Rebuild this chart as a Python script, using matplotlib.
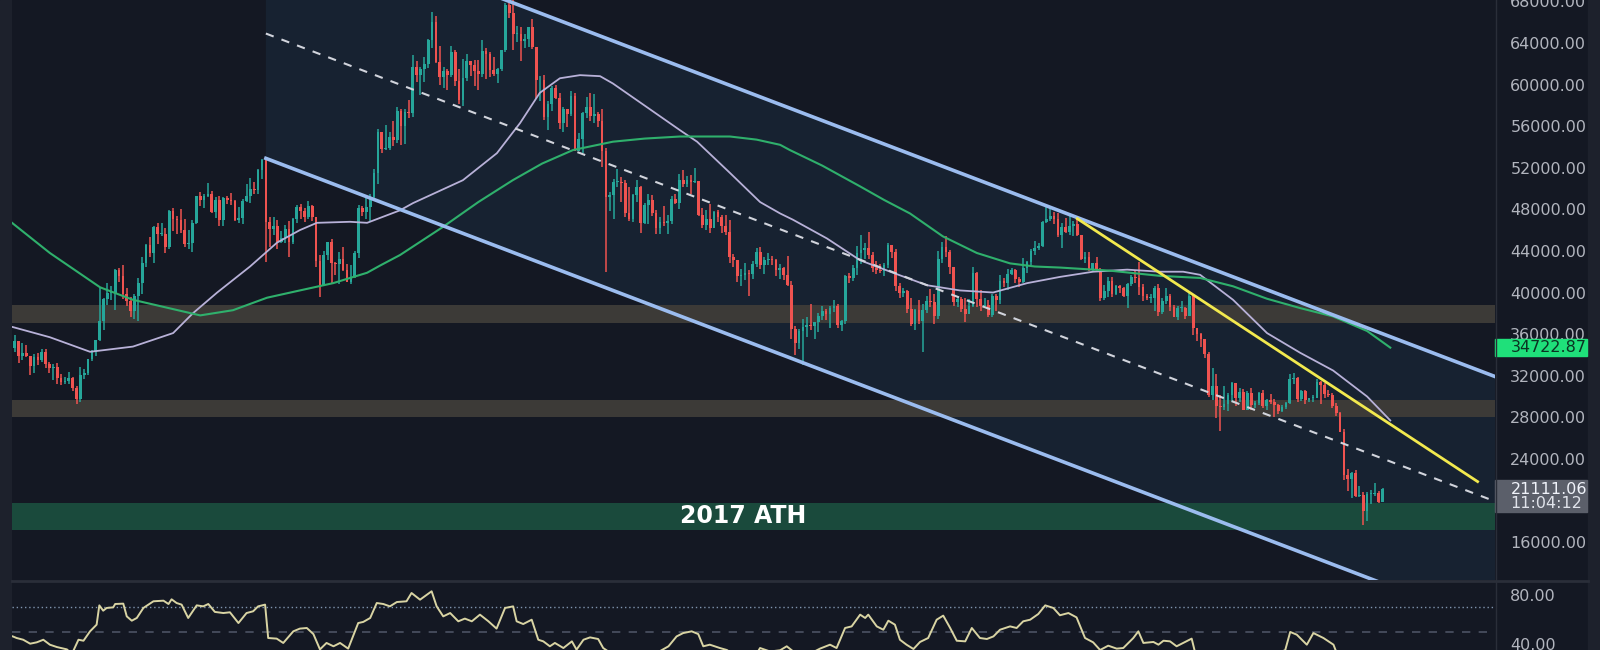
import numpy as np
import matplotlib.pyplot as plt
import matplotlib.transforms as mtransforms
from matplotlib.patches import Rectangle
from matplotlib.lines import Line2D

# BTC daily candles, 4 Jul 2021 .. 23 Jun 2022 (values in thousand USD)
first_open = 34.7
close = [
    # Jul
    35.3, 33.9, 34.2, 33.9, 32.9, 33.8, 33.5, 34.3, 33.1, 32.7, 32.8, 31.8, 31.4, 31.5,
    31.8, 30.8, 29.8, 32.1, 32.3, 33.6, 34.3, 35.4, 37.3, 39.4, 40.0, 40.0, 42.2, 41.6,
    # Aug
    39.9, 39.2, 38.2, 39.7, 40.9, 42.8, 44.6, 43.8, 46.3, 45.6, 45.6, 44.4, 47.8, 47.1, 47.0, 46.0,
    44.7, 44.8, 46.7, 49.3, 48.9, 49.3, 49.5, 47.7, 48.9, 47.0, 49.1, 48.9, 48.8, 47.0, 47.2,
    # Sep
    48.8, 49.3, 50.0, 49.9, 51.8, 52.7, 46.8, 46.1, 46.4, 44.9, 45.2, 46.1, 44.9, 47.1, 48.2,
    47.8, 47.3, 48.3, 47.3, 43.0, 40.7, 43.6, 44.9, 42.8, 42.7, 43.2, 42.2, 41.0, 41.5, 43.8,
    # Oct
    48.1, 47.7, 48.2, 49.2, 51.5, 55.4, 53.8, 53.9, 55.0, 54.7, 57.5, 56.0, 57.4, 57.3, 61.7, 60.9,
    61.5, 62.0, 64.3, 66.0, 62.2, 60.7, 61.3, 60.9, 63.1, 60.3, 58.5, 60.6, 62.3, 61.9, 61.3,
    # Nov
    61.0, 63.2, 62.9, 61.4, 61.0, 61.5, 63.3, 67.6, 66.9, 64.9, 64.9, 64.2, 64.4, 65.5, 63.6,
    60.4, 60.4, 56.9, 58.1, 59.7, 58.7, 56.3, 57.6, 57.2, 58.9, 53.6, 54.8, 57.3, 57.8, 57.0,
    # Dec
    57.2, 56.5, 53.6, 49.2, 49.4, 50.6, 50.6, 50.5, 47.6, 47.1, 49.4, 50.1, 46.7, 48.4, 48.9, 47.6,
    46.2, 46.8, 46.7, 46.9, 49.0, 48.6, 50.8, 50.4, 50.8, 50.6, 50.7, 47.5, 46.5, 47.1, 46.2,
    # Jan
    47.7, 47.3, 46.4, 45.8, 43.4, 43.1, 41.6, 41.7, 41.9, 41.8, 42.7, 43.9, 42.6, 43.1, 43.2, 43.1,
    42.2, 42.4, 41.7, 40.7, 36.5, 35.1, 36.3, 36.7, 36.9, 36.8, 37.2, 37.7, 38.2, 37.9, 38.5,
    # Feb
    38.7, 36.9, 37.3, 41.6, 41.4, 42.4, 43.8, 44.1, 44.3, 43.6, 42.4, 42.2, 42.1, 42.6,
    44.6, 43.9, 40.6, 40.0, 40.1, 38.4, 37.0, 38.3, 37.3, 38.3, 39.2, 39.1, 37.7, 43.2,
    # Mar
    44.4, 43.9, 42.5, 39.1, 39.4, 38.4, 37.9, 38.7, 41.9, 39.4, 38.7, 38.8, 37.8, 39.7, 39.3, 41.1,
    40.9, 41.8, 42.2, 41.3, 41.0, 42.4, 42.9, 44.0, 44.3, 44.5, 46.8, 47.1, 47.4, 47.1, 45.5,
    # Apr
    46.3, 45.8, 46.4, 46.6, 45.5, 43.2, 43.4, 42.3, 42.8, 42.2, 39.5, 40.1, 41.1, 39.9, 40.6,
    40.4, 39.7, 40.8, 41.5, 41.4, 40.5, 39.7, 39.5, 39.5, 40.4, 38.1, 39.2, 39.7, 38.6, 37.6,
    # May
    38.5, 38.5, 37.7, 39.7, 36.6, 36.0, 35.5, 34.1, 30.1, 31.0, 29.1, 29.0, 29.3, 30.1, 31.3, 29.9,
    30.4, 28.7, 30.3, 29.2, 29.4, 30.3, 29.1, 29.7, 29.5, 29.2, 28.6, 29.0, 29.4, 31.7, 31.8,
    # Jun
    29.8, 30.5, 29.7, 29.9, 29.9, 31.4, 31.1, 30.2, 30.1, 29.1, 28.4, 26.6,
    22.5, 22.1, 22.6, 20.4, 20.5, 19.0, 20.6, 20.6, 20.7, 19.9, 21.1,
]
high = [
    35.9, 35.3, 35.1, 35.0, 33.9, 34.1, 34.2, 34.6, 34.6, 33.3, 33.1, 33.2, 32.2, 31.9,
    32.4, 31.9, 31.0, 32.8, 32.6, 33.6, 34.5, 35.4, 40.5, 39.5, 40.9, 40.6, 42.3, 42.4,
    42.6, 40.4, 39.6, 39.9, 41.4, 43.4, 44.7, 45.3, 46.4, 46.7, 46.7, 46.2, 47.9, 48.1, 47.4, 48.0,
    47.1, 46.0, 47.0, 49.3, 49.7, 49.5, 50.5, 49.8, 49.2, 49.3, 49.2, 49.3, 49.6, 48.9, 48.2,
    49.0, 50.4, 51.0, 50.6, 51.9, 52.8, 52.9, 47.3, 47.3, 47.0, 45.9, 46.5, 46.9, 47.2, 48.4,
    48.5, 48.1, 48.8, 48.4, 47.3, 43.6, 44.0, 44.9, 45.1, 42.9, 43.9, 44.4, 42.7, 42.6, 44.0,
    48.4, 48.3, 49.3, 49.5, 51.9, 55.7, 55.3, 56.1, 55.4, 56.5, 57.8, 57.6, 57.6, 58.5, 62.8, 62.3,
    61.7, 62.6, 64.4, 67.0, 66.6, 63.7, 61.7, 61.5, 63.7, 63.3, 61.5, 62.5, 62.9, 62.3, 62.4,
    62.4, 64.3, 63.5, 63.1, 62.6, 61.6, 63.3, 67.8, 68.5, 69.0, 65.6, 65.5, 64.9, 65.5, 66.3,
    63.6, 60.8, 60.9, 58.4, 59.9, 60.0, 59.2, 57.8, 57.6, 59.4, 59.2, 55.3, 57.4, 58.8, 59.2,
    59.1, 57.4, 57.6, 53.9, 49.7, 50.9, 51.9, 51.1, 50.8, 50.1, 49.5, 50.8, 50.2, 48.6, 49.5, 49.4,
    47.9, 47.3, 48.3, 47.5, 49.3, 49.5, 51.4, 51.8, 51.2, 51.3, 52.0, 50.7, 48.1, 47.9, 48.5,
    47.8, 47.9, 47.5, 47.5, 47.0, 43.7, 43.1, 42.3, 42.8, 42.2, 43.0, 44.3, 44.4, 43.4, 43.8, 43.5,
    43.2, 42.7, 42.5, 43.5, 41.1, 36.8, 36.5, 37.5, 37.6, 38.9, 37.2, 38.0, 38.7, 38.4, 38.7,
    39.3, 38.9, 37.4, 41.7, 41.9, 42.6, 44.5, 45.5, 44.8, 45.8, 43.9, 43.0, 42.7, 42.8,
    44.8, 44.6, 44.2, 40.9, 40.4, 40.2, 39.5, 38.4, 39.3, 38.9, 39.7, 40.3, 39.9, 44.0,
    44.9, 45.4, 44.1, 42.5, 39.7, 39.6, 39.5, 39.4, 42.5, 42.0, 40.2, 39.5, 39.3, 39.9, 39.9, 41.7,
    41.4, 42.3, 42.4, 42.3, 41.5, 43.3, 43.0, 44.2, 45.0, 44.8, 46.9, 48.2, 48.1, 47.7, 47.6,
    46.7, 47.2, 47.4, 46.9, 47.1, 45.5, 43.9, 43.9, 42.8, 43.4, 42.4, 40.7, 41.5, 41.5, 40.7,
    40.7, 40.5, 40.9, 41.7, 42.2, 42.9, 40.8, 39.9, 39.9, 40.6, 40.8, 39.5, 40.4, 39.9, 38.8,
    38.7, 39.2, 38.6, 40.0, 39.9, 36.6, 36.1, 35.5, 34.3, 32.7, 32.2, 30.1, 31.0, 30.3, 31.4, 31.3,
    30.8, 30.7, 30.5, 30.8, 29.6, 30.4, 30.6, 29.8, 30.2, 29.8, 29.3, 29.2, 29.5, 32.2, 32.3,
    31.9, 30.6, 30.6, 29.9, 30.1, 31.7, 31.5, 31.3, 30.6, 30.3, 29.4, 28.5,
    26.9, 23.0, 22.7, 22.9, 21.4, 20.8, 20.8, 21.0, 21.7, 20.9, 21.2,
]
low = [
    34.3, 33.2, 33.5, 33.8, 32.1, 32.3, 33.0, 33.3, 32.7, 32.3, 31.6, 31.2, 31.1, 31.2,
    31.2, 30.5, 29.3, 29.5, 31.7, 32.1, 33.4, 33.9, 35.3, 36.4, 38.8, 39.3, 38.3, 41.0,
    39.4, 38.7, 37.6, 37.5, 37.3, 39.9, 42.5, 43.4, 42.8, 44.7, 45.4, 43.8, 44.2, 45.9, 45.6, 45.7,
    44.4, 44.2, 43.9, 46.6, 48.3, 48.1, 49.2, 47.6, 47.2, 46.4, 46.4, 48.5, 48.4, 46.9, 46.7,
    46.6, 48.7, 48.6, 49.5, 49.5, 50.9, 42.9, 44.4, 45.5, 44.2, 44.8, 44.8, 43.4, 44.7, 46.7,
    47.1, 46.8, 47.1, 46.9, 42.5, 39.6, 40.6, 43.1, 40.9, 41.7, 40.8, 42.1, 41.0, 40.8, 41.4,
    43.3, 47.4, 47.1, 46.9, 49.1, 50.4, 53.4, 53.7, 53.7, 54.1, 54.4, 54.2, 54.3, 56.8, 56.9, 60.2,
    59.0, 60.2, 61.6, 63.5, 62.1, 60.0, 59.7, 59.5, 60.7, 59.9, 58.1, 57.9, 60.3, 60.8, 59.9,
    59.5, 60.7, 60.5, 60.7, 60.8, 60.1, 61.3, 63.1, 66.4, 63.3, 64.1, 62.3, 63.5, 63.6, 63.4,
    58.6, 58.4, 56.6, 55.6, 57.5, 58.6, 55.7, 55.4, 55.9, 57.0, 53.6, 53.6, 53.4, 56.8, 56.5,
    56.3, 55.9, 52.1, 42.0, 47.8, 47.1, 50.1, 48.7, 47.3, 46.9, 46.8, 48.7, 45.7, 46.6, 46.6, 47.4,
    45.6, 45.6, 46.4, 45.6, 46.6, 48.5, 48.0, 50.1, 50.1, 49.5, 50.5, 47.4, 46.2, 46.0, 45.7,
    46.2, 46.8, 45.7, 45.5, 42.8, 42.5, 41.0, 40.6, 41.2, 39.7, 41.3, 42.5, 42.3, 41.8, 42.6, 42.6,
    41.6, 41.3, 41.2, 40.6, 35.5, 34.0, 34.6, 33.0, 35.7, 36.4, 35.5, 36.2, 37.4, 37.4, 36.6,
    38.1, 36.6, 36.3, 37.0, 40.9, 41.1, 41.7, 42.7, 43.2, 43.2, 42.0, 41.8, 41.9, 41.6,
    42.4, 43.3, 40.1, 39.5, 39.6, 38.0, 36.8, 36.4, 37.0, 34.3, 38.0, 38.6, 37.0, 37.5,
    42.8, 43.4, 41.8, 38.7, 38.6, 38.1, 37.2, 37.9, 38.6, 38.6, 38.2, 38.7, 37.6, 37.6, 38.2, 38.9,
    40.5, 40.2, 41.7, 40.9, 40.5, 40.9, 41.9, 42.6, 43.6, 44.1, 44.4, 46.7, 46.9, 46.6, 45.3,
    44.3, 45.7, 45.5, 45.4, 45.4, 43.1, 42.8, 42.1, 42.1, 42.1, 39.2, 39.3, 39.6, 39.6, 39.8,
    40.0, 39.6, 38.5, 40.6, 40.9, 39.8, 39.2, 39.3, 39.0, 38.2, 37.7, 37.9, 38.9, 38.2, 37.6,
    37.4, 38.1, 37.5, 37.7, 35.9, 35.3, 34.8, 33.7, 30.0, 29.7, 27.9, 26.7, 28.7, 28.6, 29.5, 29.1,
    29.5, 28.7, 28.7, 28.7, 28.9, 29.2, 28.9, 28.7, 29.3, 28.0, 28.3, 28.5, 28.8, 29.3, 31.2,
    29.5, 29.6, 29.3, 29.5, 29.5, 29.9, 29.3, 29.9, 30.0, 28.9, 28.1, 26.6,
    22.0, 20.9, 20.2, 20.3, 20.3, 17.6, 18.0, 19.7, 20.4, 19.8, 19.9,
]

# moving averages (day index, thousand USD)
ma_green_day = [-0.7, 9.1, 22.1, 30.6, 48.0, 56.5, 65.3, 73.8, 82.4, 91.2, 94.6, 99.7, 110.8,
                120.0, 128.9, 136.5, 144.5, 154.8, 163.0, 172.2, 185.1, 192.0, 198.1, 200.6,
                209.0, 218.8, 225.0, 231.7, 240.2, 249.0, 257.6, 264.0, 270.5, 283.5, 296.4,
                306.8, 315.3, 324.1, 332.7, 341.2, 350.0, 356.0]
ma_green_val = [46.7, 43.8, 40.5, 39.3, 37.8, 38.3, 39.5, 40.2, 40.9, 41.9, 42.6, 43.6, 46.3,
                48.7, 50.8, 52.4, 53.7, 54.5, 54.8, 55.0, 55.0, 54.7, 54.2, 53.7,
                52.2, 50.2, 48.9, 47.6, 45.4, 43.8, 42.8, 42.5, 42.4, 42.1, 41.6,
                41.4, 40.6, 39.4, 38.5, 37.7, 36.3, 34.7]
ma_lav_day = [-0.7, 9.1, 19.5, 30.6, 41.0, 46.1, 52.4, 60.9, 67.9, 73.8, 78.2, 86.8, 91.2, 99.7,
              103.1, 116.0, 124.8, 130.8, 135.9, 141.1, 146.3, 151.5, 154.8, 163.7, 172.2, 176.6,
              185.1, 192.9, 198.1, 201.4, 210.2, 218.8, 227.3, 236.1, 244.6, 253.2, 262.0, 270.5,
              279.1, 287.9, 296.4, 302.4, 306.8, 315.3, 324.1, 332.7, 341.2, 350.0, 356.0]
ma_lav_val = [36.7, 35.7, 34.3, 34.8, 36.1, 38.0, 40.0, 42.5, 44.8, 46.0, 46.7, 46.8, 46.7, 47.9,
              48.6, 50.8, 53.4, 56.3, 59.2, 60.6, 60.9, 60.8, 60.1, 57.8, 55.6, 54.5,
              51.5, 48.7, 47.6, 47.0, 45.2, 43.1, 41.9, 40.7, 40.2, 40.0, 40.9, 41.5,
              42.0, 42.2, 42.0, 42.0, 41.7, 39.3, 36.1, 34.2, 32.5, 30.0, 27.7]

# RSI
rsi_day = [-0.5, 0.5, 2.2, 4.0, 5.7, 7.4, 9.1, 10.9, 13.5, 14.8, 16.5, 17.8, 19.5, 21.2, 21.9,
           22.9, 23.8, 25.5, 26.0, 28.1, 29.0, 30.3, 31.6, 33.3, 35.9, 38.5, 39.8, 40.6, 41.9,
           43.2, 44.9, 47.1, 48.8, 50.1, 51.8, 54.0, 55.7, 57.9, 60.0, 61.7, 63.0, 64.8, 65.6,
           67.8, 69.5, 72.1, 73.8, 75.6, 77.3, 79.0, 80.7, 82.5, 84.2, 86.3, 88.9, 90.2, 92.0,
           93.7, 95.4, 97.1, 98.9, 101.4, 102.7, 104.9, 107.9, 109.2, 110.9, 112.7, 114.8, 116.5,
           118.3, 120.4, 122.6, 124.7, 126.9, 129.0, 129.9, 131.6, 133.8, 135.5, 136.8, 138.5,
           139.8, 142.0, 144.2, 145.4, 147.2, 148.9, 151.0, 152.3, 154.1, 156.6, 161.8, 165.7,
           169.2, 171.3, 173.0, 175.2, 176.9, 178.2, 179.9, 182.5, 184.3, 187.7, 190.8, 192.9,
           195.5, 198.1, 199.8, 201.5, 204.5, 208.4, 211.0, 212.7, 214.9, 216.6, 218.8, 220.1,
           220.9, 223.1, 224.8, 226.1, 227.8, 229.1, 230.8, 232.6, 234.3, 236.4, 238.6, 240.3,
           242.1, 243.8, 246.0, 247.7, 249.8, 251.6, 253.3, 255.0, 257.6, 259.3, 261.0, 262.8,
           264.9, 266.7, 268.8, 270.5, 272.7, 274.8, 277.0, 279.1, 280.9, 283.0, 285.2, 286.9,
           289.5, 290.8, 292.1, 294.7, 296.0, 297.3, 299.0, 300.7, 302.4, 304.6, 305.5, 309.3,
           314.5, 319.7, 324.9, 328.8, 330.1, 331.8, 334.4, 336.1, 338.7, 341.3, 342.1, 344.3,
           348.2, 353.4, 354.0]
rsi_val = [46.2, 44.9, 43.5, 40.3, 41.4, 43.5, 39.5, 37.6, 35.7, 32.0, 43.5, 42.7, 50.3, 55.7, 71.3,
           67.0, 69.2, 69.7, 72.4, 72.7, 62.4, 58.9, 61.1, 69.2, 74.6, 75.1, 72.4, 76.2, 73.2,
           71.9, 61.1, 71.3, 70.5, 72.4, 66.0, 65.1, 65.7, 57.0, 65.1, 66.5, 70.5, 71.9, 44.9,
           44.4, 40.9, 50.3, 52.5, 53.0, 48.1, 35.7, 40.9, 38.2, 40.9, 36.3, 57.0, 57.9, 61.1,
           73.2, 72.4, 70.5, 74.0, 74.6, 81.3, 75.9, 82.7, 70.5, 62.4, 65.1, 58.4, 60.6,
           58.4, 63.8, 58.4, 52.5, 69.2, 70.5, 58.4, 56.2, 59.7, 43.5, 42.2, 38.2,
           40.9, 36.8, 42.2, 35.5, 43.5, 45.4, 44.1, 36.8, 33.0, 31.0, 33.0, 32.0,
           38.2, 46.2, 48.9, 50.3, 48.1, 38.2, 39.5, 36.8, 35.2, 28.0, 26.0, 36.8,
           34.0, 35.0, 38.2, 34.0, 30.0, 36.3, 39.5, 36.8, 53.0, 54.3, 63.8, 61.1,
           63.8, 54.3, 51.6, 58.9, 55.7, 43.5, 39.5, 36.0, 41.7, 44.9, 59.7, 63.0,
           53.0, 42.7, 42.2, 53.0, 44.9, 44.1, 46.2, 51.6, 54.3, 53.0, 58.4, 59.7,
           64.3, 71.3, 69.2, 63.3, 65.1, 61.6, 44.9, 41.4, 35.2, 38.7, 36.3, 36.8,
           44.9, 50.3, 40.9, 41.7, 39.5, 42.7, 42.2, 38.2, 40.9, 44.4, 33.0, 25.0,
           30.0, 28.0, 31.0, 35.0, 49.8, 47.6, 39.5, 48.9, 44.9, 39.5, 33.0, 22.0,
           18.0, 25.0, 28.0]

price_ticks = [16000, 24000, 28000, 32000, 36000, 40000, 44000, 48000, 52000,
               56000, 60000, 64000, 68000]

# drawings
channel_day = [65, 390]
channel_low = [52900, 52900 - 141.4 * 325]
channel_width = 24000
trend_day = [275, 378.6]
trend_val = [47100, 21819]
zones = [(37100, 38800), (28000, 29700)]
ath_zone = (17200, 19750)

last_price = 21111.06
ma_last = 34722.87

bg = '#141823'
up_col, down_col = '#26a69a', '#ef5350'

c = np.array(close) * 1000
o = np.concatenate([[first_open], close[:-1]]) * 1000
h = np.maximum(np.array(high) * 1000, np.maximum(o, c))
l = np.minimum(np.array(low) * 1000, np.minimum(o, c))
days = np.arange(len(c))
cols = np.where(c >= o, up_col, down_col)

fig = plt.figure(figsize=(16, 6.5), dpi=100, facecolor=bg)
ax = fig.add_axes([12 / 1600, 1 - 580 / 650, 1483 / 1600, 580 / 650], facecolor=bg)
rax = fig.add_axes([12 / 1600, 0, 1483 / 1600, 68 / 650], facecolor=bg)

# channel
lo = np.array(channel_low)
ax.fill_between(channel_day, lo, lo + channel_width, color='#172231', lw=0, zorder=0.5)

# horizontal zones
for z0, z1 in zones:
    ax.axhspan(z0, z1, color='#3c3a37', lw=0, zorder=1)
ax.axhspan(*ath_zone, color='#1a4a3c', lw=0, zorder=1)
ax.text(188.5, sum(ath_zone) / 2, '2017 ATH', color='white', fontsize=17,
        fontweight='bold', ha='center', va='center', zorder=6)

# candles
ax.vlines(days, l, h, colors=cols, lw=1.1, zorder=3)
ax.bar(days, np.maximum(np.abs(c - o), 80), bottom=np.minimum(o, c), width=0.7,
       color=cols, lw=0, zorder=3)

# moving averages
ax.plot(ma_lav_day, np.array(ma_lav_val) * 1000, color='#b8b1d8', lw=1.3, zorder=4)
ax.plot(ma_green_day, np.array(ma_green_val) * 1000, color='#2fb06c', lw=1.5, zorder=4)

# channel lines, midline, trendline
ax.plot(channel_day, lo, color='#9bbcef', lw=2.6, zorder=5)
ax.plot(channel_day, lo + channel_width, color='#9bbcef', lw=2.6, zorder=5)
ax.plot(channel_day, lo + channel_width / 2, color='#d1d4dc', lw=1.5,
        ls=(0, (4, 4)), zorder=5)
ax.plot(trend_day, trend_val, color='#f2e94e', lw=2, zorder=5)

ax.set_xlim(-0.7, 383.1)
ax.set_ylim(12358, 68125)
ax.set_xticks([])
ax.yaxis.tick_right()
ax.set_yticks(price_ticks)
ax.set_yticklabels([f'{t:.2f}' for t in price_ticks])
ax.tick_params(axis='y', length=0, pad=11, labelsize=11.5, labelcolor='#b2b5be')
for s in ax.spines.values():
    s.set_visible(False)

# price labels on the scale
tr = mtransforms.blended_transform_factory(ax.transAxes, ax.transData)
ax.add_patch(Rectangle((1.0, ma_last - 800), 0.062, 1600, transform=tr,
                       color='#1fe07a', clip_on=False, zorder=10))
ax.text(1.0105, ma_last, f'{ma_last:.2f}', transform=tr, color='#0b3322',
        fontsize=11.5, va='center', ha='left', zorder=11, clip_on=False)
ax.add_patch(Rectangle((1.0, 18900), 0.062, 3070, transform=tr,
                       color='#5b5f6a', clip_on=False, zorder=10))
ax.text(1.0105, 21090, f'{last_price:.2f}', transform=tr, color='#f0f3fa',
        fontsize=11.5, va='center', ha='left', zorder=11, clip_on=False)
ax.text(1.0105, 19760, '11:04:12', transform=tr, color='#e0e3eb',
        fontsize=11.5, va='center', ha='left', zorder=11, clip_on=False)

# RSI pane
rax.axhline(70, color='#7f93ad', lw=1, ls=(0, (1, 2)))
rax.axhline(50, color='#4c5263', lw=1.2, ls=(0, (5, 5)))
rax.plot(rsi_day, rsi_val, color='#d9d4a3', lw=1.4)
rax.set_xlim(-0.7, 383.1)
rax.set_ylim(35.2, 90.2)
rax.set_xticks([])
rax.yaxis.tick_right()
rax.set_yticks([40, 80])
rax.set_yticklabels(['40.00', '80.00'])
rax.tick_params(axis='y', length=0, pad=11, labelsize=11.5, labelcolor='#b2b5be')
for s in rax.spines.values():
    s.set_visible(False)

# frame pieces
fig.add_artist(Rectangle((0, 0), 12 / 1600, 1, transform=fig.transFigure,
                         color='#1d212c', zorder=0))
fig.add_artist(Rectangle((1588 / 1600, 0), 12 / 1600, 1, transform=fig.transFigure,
                         color='#1d212c', zorder=0))
fig.add_artist(Line2D([12 / 1600, 1588 / 1600], [1 - 581 / 650] * 2,
                      transform=fig.transFigure, color='#2a2e39', lw=2))
fig.add_artist(Line2D([1496 / 1600] * 2, [0, 1], transform=fig.transFigure,
                      color='#2a2e39', lw=1))

fig.savefig('out.png', dpi=100, facecolor=bg)
